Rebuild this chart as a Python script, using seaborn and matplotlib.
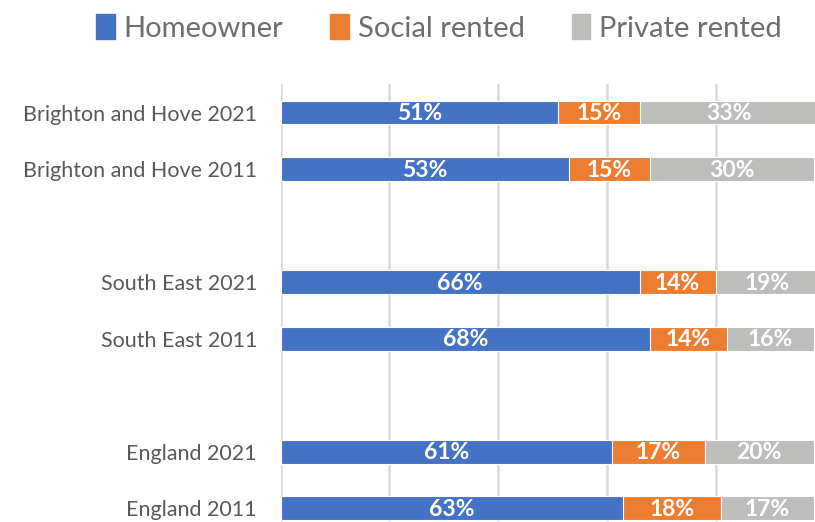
import matplotlib
matplotlib.use("Agg")
import matplotlib.pyplot as plt
import matplotlib.patches as mpatches
import seaborn as sns
import pandas as pd
import numpy as np

areas = ["Brighton and Hove 2021", "Brighton and Hove 2011",
         "South East 2021", "South East 2011",
         "England 2021", "England 2011"]
homeowner = [51, 53, 66, 68, 61, 63]
social_rented = [15, 15, 14, 14, 17, 18]
private_rented = [33, 30, 19, 16, 20, 17]
series_names = ["Homeowner", "Social rented", "Private rented"]
colors = ["#4472C4", "#ED7D31", "#BDBDBB"]

order = [areas[0], areas[1], " ", areas[2], areas[3], "  ", areas[4], areas[5]]

sns.set_theme(style="white")
plt.rcParams["font.family"] = ["Lato", "DejaVu Sans"]

df = pd.DataFrame({"area": areas, "h": homeowner, "s": social_rented, "p": private_rented})
df["c1"] = df["h"]
df["c2"] = df["h"] + df["s"]
df["c3"] = df["h"] + df["s"] + df["p"]

W, H = 815, 522
fig = plt.figure(figsize=(W / 100, H / 100), dpi=100)
ax = fig.add_axes([280.5 / W, 1 - 536.5 / H, (824.5 - 280.5) / W, (536.5 - 84.25) / H])

bw = 0.42
for col, c in zip(["c3", "c2", "c1"], colors[::-1]):
    sns.barplot(data=df, y="area", x=col, order=order, color=c, width=bw,
                orient="h", ax=ax, saturation=1, errorbar=None,
                linewidth=0.8, edgecolor="white")

ax.set_xlim(0, 100)
ax.set_xticks([0, 20, 40, 60, 80, 100])
ax.set_xticklabels([])
ax.grid(axis="x", color="#D9D9D9", linewidth=1.8)
ax.grid(axis="y", visible=False)
ax.set_axisbelow(True)
for s in ax.spines.values():
    s.set_visible(False)
ax.set_xlabel("")
ax.set_ylabel("")
ax.tick_params(axis="y", length=0, pad=17, labelsize=15.5, labelcolor="#595959")
ax.tick_params(axis="x", length=0)

pos = {name: i for i, name in enumerate(order)}
for _, r in df.iterrows():
    y = pos[r["area"]]
    starts = [0, r["c1"], r["c2"]]
    vals = [r["h"], r["s"], r["p"]]
    for st, v in zip(starts, vals):
        ax.text(st + v / 2, y + 0.02, f"{v}%", ha="center", va="center", color="white",
                fontsize=16.5, fontweight="bold", clip_on=False)

handles = [mpatches.Patch(color=c, label=n) for c, n in zip(colors, series_names)]
fig.legend(handles=handles, loc="center", bbox_to_anchor=(439 / W, 1 - 28 / H), ncol=3,
           frameon=False, fontsize=21, handlelength=0.65, handleheight=0.9,
           handletextpad=0.3, columnspacing=1.6, labelcolor="#6E6E6E")

fig.savefig("out.png", dpi=100)
